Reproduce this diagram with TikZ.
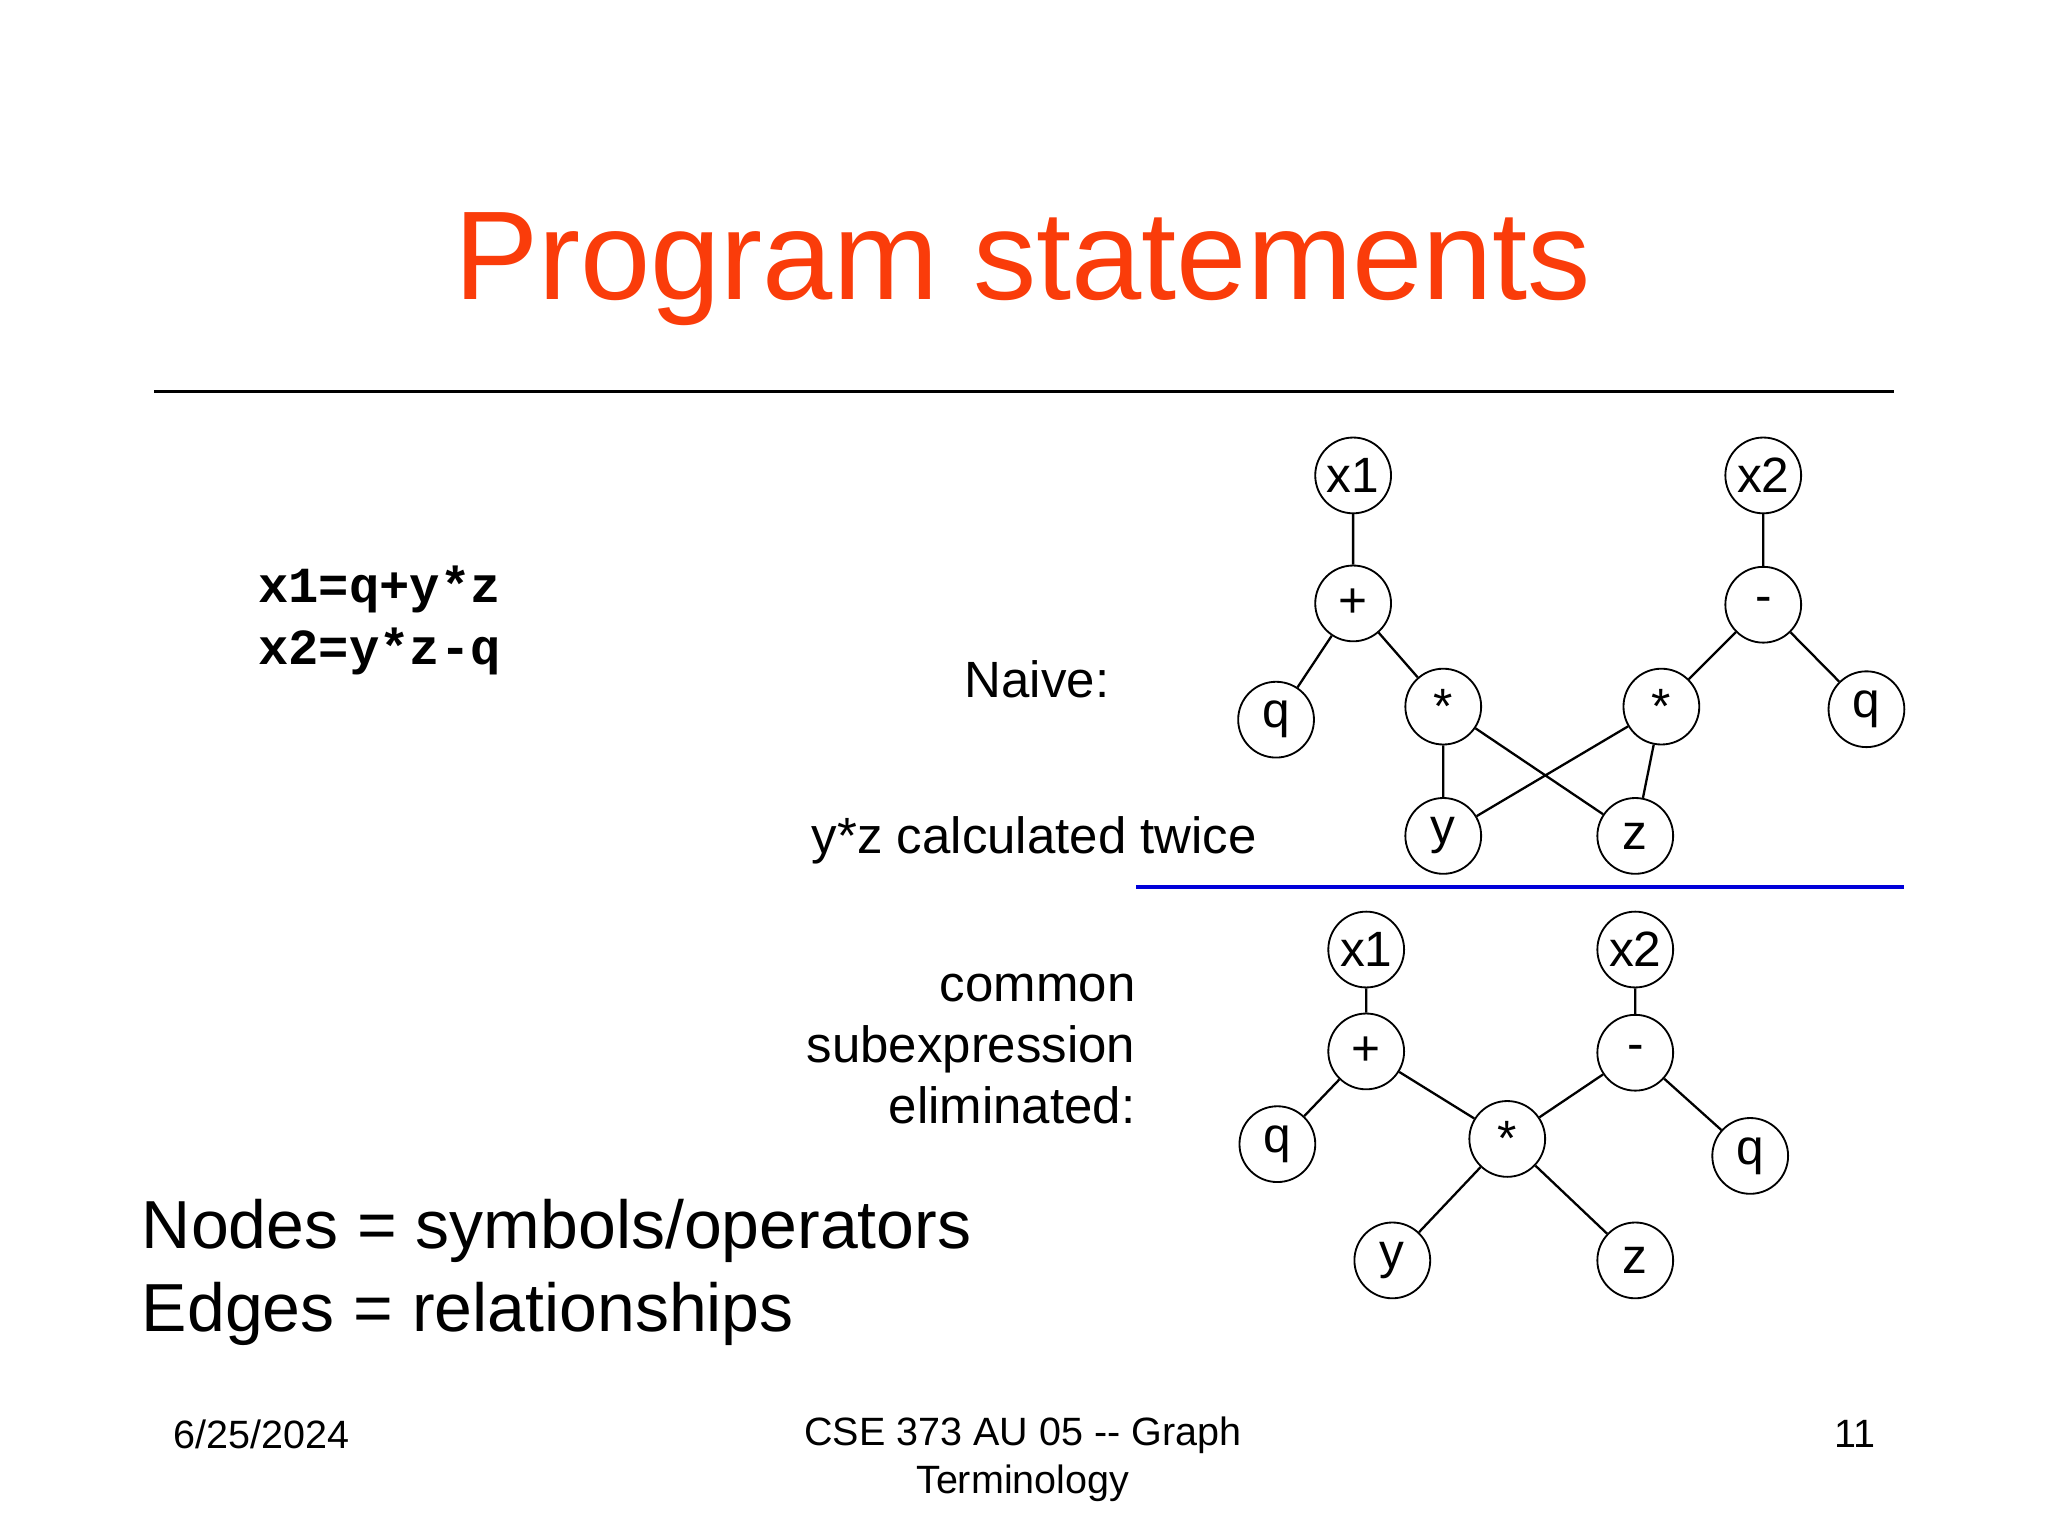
\documentclass[tikz,border=0pt]{standalone}
\usepackage{fontspec}
\setmainfont{Liberation Sans}
\newfontfamily\codefont{Liberation Mono}
\begin{document}
\begin{tikzpicture}[x=0.01cm,y=-0.01cm,
  nd/.style={circle,draw,line width=0.4pt,minimum size=0.58cm,inner sep=0pt,font=\fontsize{10.8}{12}\selectfont},
  ed/.style={line width=0.5pt},
  lbl/.style={inner sep=0pt,font=\fontsize{11.1}{13.3}\selectfont}]
\useasboundingbox (0,0) rectangle (1568,1176);
\fill[white] (0,0) rectangle (1568,1176);
\node[font=\fontsize{27.5}{30}\selectfont,color={rgb,255:red,250;green,60;blue,10}] (title) at (783,206) {Program statements};
\draw[line width=0.6pt] (118,300) coordinate (l1) -- (1450,300) coordinate (l2);
\node[anchor=west,align=left,inner sep=0pt,font=\codefont\bfseries\fontsize{11}{13.5}\selectfont] (code) at (197,475) {x1=q+y*z\\x2=y*z-q};
\node[lbl,anchor=east] (naive) at (850,520) {Naive:};
\node[lbl,anchor=east] (twice) at (963,643) {y*z calculated twice};
\draw[blue!85!black,line width=1pt] (870,679) coordinate (b1) -- (1458,679) coordinate (b2);
\node[lbl,anchor=east,align=right] (cse) at (870,803) {common\\subexpression\\eliminated:};
\node[anchor=west,align=left,inner sep=0pt,font=\fontsize{14.8}{18}\selectfont] (ne) at (108,974) {Nodes = symbols/operators\\Edges = relationships};
\node[font=\fontsize{8.6}{10.5}\selectfont] (date) at (200,1098) {6/25/2024};
\node[font=\fontsize{8.6}{10.5}\selectfont,align=center] (foot) at (783,1117) {CSE 373 AU 05 {-}{-} Graph\\Terminology};
\node[font=\fontsize{8.6}{10.5}\selectfont] (pg) at (1420,1098) {11};
% naive
\node[nd] (ax1) at (1036,364) {x1};
\node[nd] (ap) at (1036,462) {+};
\node[nd] (aq) at (977,551) {q};
\node[nd] (as1) at (1105,541) {*};
\node[nd] (ay) at (1105,640) {y};
\node[nd] (az) at (1252,640) {z};
\node[nd] (as2) at (1272,541) {*};
\node[nd] (am) at (1350,463) {-};
\node[nd] (ax2) at (1350,364) {x2};
\node[nd] (aq2) at (1429,543) {q};
\draw[ed] (ax1)--(ap) (ap)--(aq) (ap)--(as1) (as1)--(ay) (as1)--(az) (as2)--(ay) (as2)--(az) (am)--(as2) (am)--(aq2) (ax2)--(am);
% cse
\node[nd] (bx1) at (1046,727) {x1};
\node[nd] (bp) at (1046,805) {+};
\node[nd] (bq) at (978,876) {q};
\node[nd] (bs) at (1154,872) {*};
\node[nd] (bm) at (1252,806) {-};
\node[nd] (bx2) at (1252,727) {x2};
\node[nd] (bq2) at (1340,885) {q};
\node[nd] (by) at (1066,965) {y};
\node[nd] (bz) at (1252,965) {z};
\draw[ed] (bx1)--(bp) (bp)--(bq) (bp)--(bs) (bm)--(bs) (bx2)--(bm) (bm)--(bq2) (bs)--(by) (bs)--(bz);
\end{tikzpicture}
\end{document}
